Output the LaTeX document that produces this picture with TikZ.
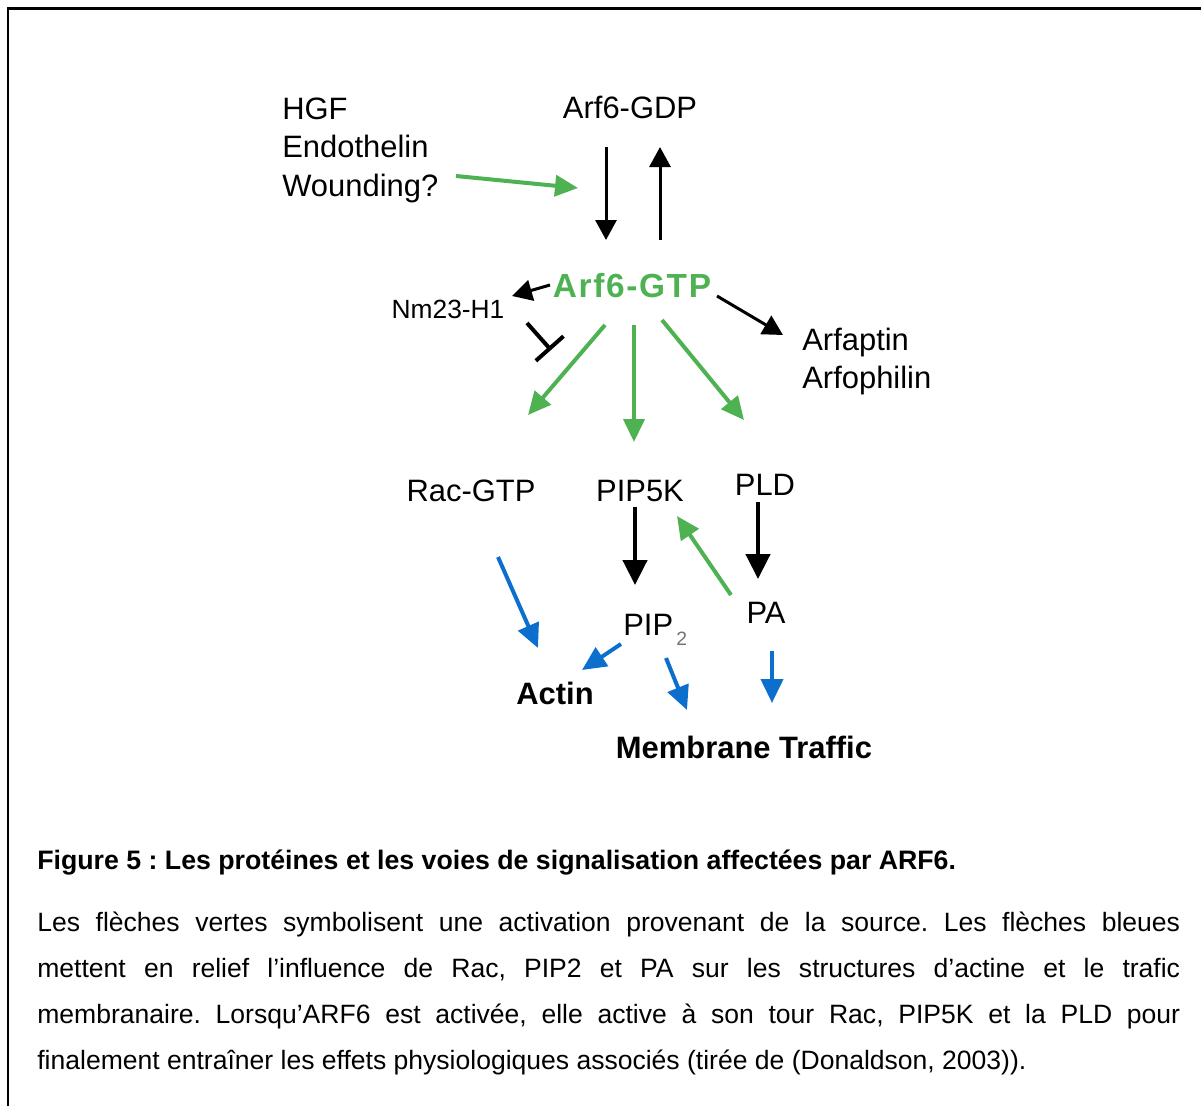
\documentclass[tikz,border=0pt]{standalone}
\usepackage{fontspec}
\setmainfont{Liberation Sans}
\usetikzlibrary{calc,arrows.meta}
\definecolor{arfgreen}{RGB}{78,178,82}
\definecolor{arfblue}{RGB}{12,110,205}
\tikzset{
	lbl/.style={inner sep=0pt, anchor=base, font=\fontsize{17.6}{21.9}\selectfont},
	blk/.style={line width=0.06cm, -{Triangle[length=0.4cm,width=0.42cm]}},
	blkthick/.style={line width=0.09cm, -{Triangle[length=0.5cm,width=0.48cm]}},
	grn/.style={line width=0.08cm, color=arfgreen, -{Triangle[length=0.46cm,width=0.42cm]}},
	blu/.style={line width=0.08cm, color=arfblue, -{Triangle[length=0.48cm,width=0.44cm]}},
	inhib/.style={line width=0.08cm, -{Bar[width=0.74cm]}},
}

\begin{document}
\begin{tikzpicture}[x=0.02cm, y=-0.02cm]
		%%%%% START %%%%%
		\useasboundingbox (0, 0) rectangle (1201, 1106);
		
		\draw[line width=0.06cm] (1201, 8) -- (8, 8) -- (8, 1106);
		
		% proteins
		\node[lbl] (gdp) at (630, 118) {Arf6-GDP};
		\node[lbl, color=arfgreen, font=\fontsize{19}{23}\selectfont\bfseries\addfontfeature{LetterSpace=5}] (gtp) at (632, 297) {Arf6-GTP};
		\node[lbl, anchor=west, align=left] (stim) at (282, 150) {HGF\\Endothelin\\Wounding?};
		\node[lbl, font=\fontsize{15}{18}\selectfont] (nm) at (448, 318) {Nm23-H1};
		\node[lbl, anchor=west, align=left] (arf) at (802, 361.5) {Arfaptin\\Arfophilin};
		\node[lbl] (rac) at (471, 501) {Rac-GTP};
		\node[lbl] (pipk) at (640, 501) {PIP5K};
		\node[lbl] (pld) at (765, 495) {PLD};
		\node[lbl, anchor=base west] (pip) at (623, 635) {PIP\raisebox{-5.7pt}{\fontsize{11}{11}\selectfont\color{black!55}\,2}};
		\node[lbl] (pa) at (766, 623) {PA};
		\node[lbl, font=\fontsize{17.6}{21.9}\selectfont\bfseries] (actin) at (555, 704) {Actin};
		\node[lbl, font=\fontsize{17.6}{21.9}\selectfont\bfseries] (traffic) at (744, 758) {Membrane Traffic};
		
		% GDP / GTP cycle
		\draw[blk] ($(gdp.base)+(-24, 29)$) -- ($(gtp.base)+(-26, -57)$);
		\draw[blk] ($(gtp.base)+(28, -57)$) -- ($(gdp.base)+(30, 29)$);
		\draw[grn] ($(stim.west)+(174, 26)$) -- ($(gdp.base)+(-52, 70)$);
		
		% from Arf6-GTP
		\draw[blk] ($(gtp.base)+(-82, -12)$) -- ($(nm.base)+(64, -22)$);
		\draw[blk] ($(gtp.base)+(85, -1)$) -- ($(arf.west)+(-19, -26.5)$);
		\draw[grn] ($(gtp.base)+(-27, 28)$) -- ($(rac.base)+(57, -86)$);
		\draw[grn] ($(gtp.base)+(2, 28)$) -- ($(pipk.base)+(-6, -59)$);
		\draw[grn] ($(gtp.base)+(30, 23)$) -- ($(pld.base)+(-21, -75)$);
		\draw[inhib] ($(nm.base)+(79, 5)$) -- ($(rac.base)+(80, -151)$);
		
		% lipids
		\draw[blkthick] ($(pipk.base)+(-5, 6)$) -- ($(pip.base west)+(12, -50)$);
		\draw[blkthick] ($(pld.base)+(-7, 7)$) -- ($(pa.base)+(-8, -44)$);
		\draw[grn] ($(pa.base)+(-35, -28)$) -- ($(pipk.base)+(37, 15)$);
		
		% effects
		\draw[blu] ($(rac.base)+(27, 56)$) -- ($(actin.base)+(-17, -56)$);
		\draw[blu] ($(pip.base west)+(-2, 9)$) -- ($(actin.base)+(27, -34)$);
		\draw[blu] ($(pip.base west)+(43, 23)$) -- ($(traffic.base)+(-57, -48)$);
		\draw[blu] ($(pa.base)+(6, 28)$) -- ($(traffic.base)+(28, -55)$);
		
		% caption
		\node[inner sep=0pt, anchor=base west, font=\fontsize{15.2}{26.2}\selectfont\bfseries\frenchspacing] (title) at (37, 869) {Figure 5 : Les protéines et les voies de signalisation affectées par ARF6.};
		\node[inner sep=0pt, anchor=north west, text width=22.86cm, align=justify, font=\fontsize{15.1}{26.2}\selectfont] (legend) at (37, 912) {\frenchspacing\tolerance=10000\hyphenpenalty=10000
			Les flèches vertes symbolisent une activation provenant de la source. Les flèches bleues\linebreak
			mettent en relief l'influence de Rac, PIP2 et PA sur les structures d'actine et le trafic\linebreak
			membranaire. Lorsqu'ARF6 est activée, elle active à son tour Rac, PIP5K et la PLD pour\linebreak
			finalement entraîner les effets physiologiques associés (tirée de (Donaldson, 2003)).};
		
		%%%%% END %%%%%
\end{tikzpicture}
\end{document}
